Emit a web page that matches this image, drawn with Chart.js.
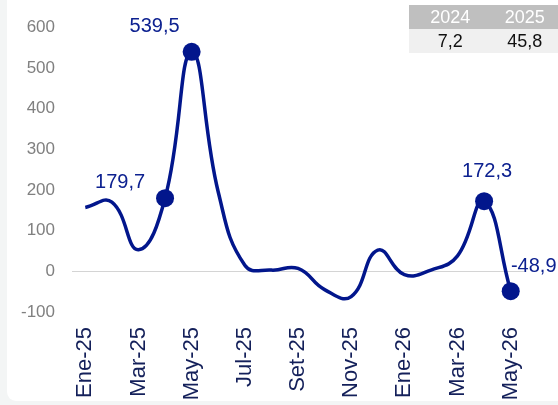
<!DOCTYPE html>
<html lang="es">
<head>
    <meta charset="UTF-8">
    <title>Variación mensual</title>
    <script src="https://cdn.jsdelivr.net/npm/chart.js"></script>
    <style>
        body {
            margin: 0;
            background: #f3f5f5;
            font-family: "Liberation Sans", Arial, sans-serif;
        }
        .card {
            position: absolute;
            left: 7px;
            top: -10px;
            width: 600px;
            height: 411px;
            background: #ffffff;
            border-radius: 9px;
        }
        .wrap {
            position: absolute;
            left: 0;
            top: 0;
            width: 558px;
            height: 405px;
        }
        /* tabla de resumen arriba a la derecha */
        .resumen {
            position: absolute;
            left: 409px;
            top: 5px;
            border-collapse: collapse;
            font-size: 18px;
        }
        .resumen td {
            height: 24px;
            padding: 0;
            text-align: center;
        }
        .resumen tr.cab td { background: #bfbfbf; color: #ffffff; }
        .resumen tr.val td { background: #f0f0f0; color: #111111; }
    </style>
</head>
<body>
    <div class="card"></div>
    <div class="wrap">
        <canvas id="grafico"></canvas>
    </div>
    <table class="resumen">
        <tr class="cab"><td style="width:88px" id="h0"></td><td style="width:70px" id="h1"></td></tr>
        <tr class="val"><td id="v0"></td><td id="v1"></td></tr>
    </table>

    <script>
        // datos
        const meses = ['Ene-25', 'Feb-25', 'Mar-25', 'Abr-25', 'May-25', 'Jun-25', 'Jul-25', 'Ago-25', 'Set-25',
                       'Oct-25', 'Nov-25', 'Dic-25', 'Ene-26', 'Feb-26', 'Mar-26', 'Abr-26', 'May-26'];
        const valores = [157, 170, 53, 179.7, 539.5, 195, 15, 3, 7, -45, -62, 52, -8, 3, 38, 172.3, -48.9];
        const puntosMarcados = [3, 4, 15, 16];
        const anios = ['2024', '2025'];
        const totales = [7.2, 45.8];

        const azul = '#02168c';
        const fmt = v => v.toFixed(1).replace('.', ',');

        document.getElementById('h0').textContent = anios[0];
        document.getElementById('h1').textContent = anios[1];
        document.getElementById('v0').textContent = fmt(totales[0]);
        document.getElementById('v1').textContent = fmt(totales[1]);

        // desplazamiento de las etiquetas respecto al punto
        const desplaz = { 3: [-45, -16], 4: [-37, -25], 15: [3, -30], 16: [23, -25] };

        const etiquetas = {
            id: 'etiquetas',
            afterDatasetsDraw(chart) {
                const ctx = chart.ctx;
                const meta = chart.getDatasetMeta(0);
                ctx.save();
                ctx.font = '20px "Liberation Sans", Arial, sans-serif';
                ctx.fillStyle = '#0d2190';
                ctx.textAlign = 'center';
                ctx.textBaseline = 'middle';
                for (const i of puntosMarcados) {
                    const p = meta.data[i];
                    const d = desplaz[i];
                    ctx.fillText(fmt(valores[i]), p.x + d[0], p.y + d[1]);
                }
                ctx.restore();
            }
        };

        const radios = valores.map((v, i) => puntosMarcados.includes(i) ? 9 : 0);

        new Chart(document.getElementById('grafico'), {
            type: 'line',
            data: {
                labels: meses,
                datasets: [{
                    data: valores,
                    borderColor: azul,
                    backgroundColor: azul,
                    borderWidth: 3.5,
                    tension: 0.45,
                    pointRadius: radios,
                    pointHoverRadius: radios,
                    pointBorderWidth: 0,
                    clip: false
                }]
            },
            options: {
                responsive: true,
                maintainAspectRatio: false,
                animation: false,
                layout: { padding: { top: 23, right: 34, left: 0, bottom: 0 } },
                plugins: {
                    legend: { display: false },
                    tooltip: { enabled: false }
                },
                scales: {
                    x: {
                        offset: true,
                        grid: { display: false, drawTicks: false },
                        border: { display: false },
                        ticks: {
                            autoSkip: false,
                            maxRotation: 90,
                            minRotation: 90,
                            padding: 15,
                            color: '#14205a',
                            font: { size: 22, family: '"Liberation Sans", Arial, sans-serif' },
                            callback: (v, i) => i % 2 === 0 ? meses[i] : ''
                        },
                        afterFit: s => { s.height = 93; }
                    },
                    y: {
                        min: -100,
                        max: 600,
                        grid: {
                            drawTicks: false,
                            color: c => c.tick && c.tick.value === 0 ? '#d4d4d4' : 'rgba(0,0,0,0)'
                        },
                        border: { display: false },
                        ticks: {
                            stepSize: 100,
                            padding: 17,
                            color: '#808080',
                            font: { size: 17, family: '"Liberation Sans", Arial, sans-serif' }
                        },
                        afterFit: s => { s.width = 72; }
                    }
                }
            },
            plugins: [etiquetas]
        });
    </script>
</body>
</html>
